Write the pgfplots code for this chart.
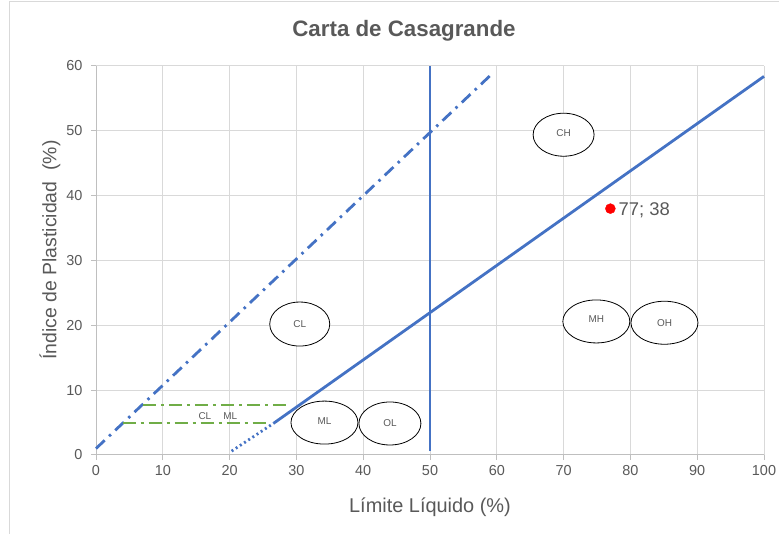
\documentclass[border=0pt]{standalone}
\usepackage{pgfplots}
\pgfplotsset{compat=1.18}
\usepackage{fontspec}
\setmainfont{Liberation Sans}
\definecolor{txt}{HTML}{595959}
\definecolor{gridc}{HTML}{D9D9D9}
\definecolor{axc}{HTML}{BFBFBF}
\definecolor{blu}{HTML}{4472C4}
\definecolor{grn}{HTML}{70AD47}
\tikzset{zone/.style={black, line width=0.8bp, fill=white}, zlab/.style={font=\fontsize{10}{11}\selectfont, text=txt}}
\begin{document}
\begin{tikzpicture}
\path[use as bounding box] (-96bp,-79bp) rectangle (683bp,455bp);
\draw[gridc, line width=1bp] (-86bp,-79bp) -- (-86bp,453bp) -- (683bp,453bp);
\begin{axis}[
  scale only axis, width=668bp, height=389bp,
  xmin=0, xmax=100, ymin=0, ymax=60,
  xtick distance=10, ytick distance=10,
  grid=major,
  major grid style={gridc, line width=1bp},
  axis x line*=bottom, axis y line*=left,
  axis line style={axc, line width=1bp, -},
  tick style={axc, line width=1bp},
  major tick length=5bp,
  tick align=outside,
  /pgf/number format/assume math mode=true,
  ticklabel style={font=\fontsize{14.5}{16}\selectfont, text=txt},
  xticklabel style={yshift=-2bp},
  yticklabel style={xshift=-5bp},
  clip=false,
]
% U-line
\addplot[blu, line width=2.8bp, dash pattern=on 12bp off 6bp on 2.5bp off 6bp] coordinates {(0,1) (59.5,59)};
% vertical LL=50
\addplot[blu, line width=2.8bp] coordinates {(50,0.6) (50,60)};
% A-line
\addplot[blu, line width=2.8bp, dash pattern=on 2bp off 3bp] coordinates {(20.3,0.6) (26.6,4.9)};
\addplot[blu, line width=2.8bp] coordinates {(26.6,4.9) (100,58.4)};
% CL-ML band
\addplot[grn, line width=2.3bp, dash pattern=on 13bp off 5bp on 3bp off 5bp] coordinates {(7,7.7) (28.8,7.7)};
\addplot[grn, line width=2.3bp, dash pattern=on 13bp off 5bp on 3bp off 5bp] coordinates {(4,4.9) (25.7,4.9)};
% ellipses
\draw[zone] (axis cs:30.5,20.2) ellipse [x radius=30bp, y radius=22bp];
\node[zlab] at (axis cs:30.5,20.2) {CL};
\draw[zone] (axis cs:34.2,5.0) ellipse [x radius=33.5bp, y radius=21.5bp];
\node[zlab] at (axis cs:34.2,5.3) {ML};
\draw[zone] (axis cs:44.0,4.86) ellipse [x radius=31bp, y radius=21.5bp];
\node[zlab] at (axis cs:44.0,4.86) {OL};
\draw[zone] (axis cs:70.0,49.4) ellipse [x radius=30.5bp, y radius=21.5bp];
\node[zlab] at (axis cs:70.0,49.7) {CH};
\draw[zone] (axis cs:74.9,20.6) ellipse [x radius=33.5bp, y radius=21.5bp];
\node[zlab] at (axis cs:74.9,20.9) {MH};
\draw[zone] (axis cs:85.1,20.4) ellipse [x radius=33.5bp, y radius=21.5bp];
\node[zlab] at (axis cs:85.1,20.4) {OH};
\node[zlab] at (axis cs:16.3,6.0) {CL};
\node[zlab] at (axis cs:20.1,6.0) {ML};
% point
\addplot[only marks, mark=*, mark size=5bp, red, mark options={draw=red, fill=red}] coordinates {(77,38)};
\node[anchor=base west, font=\fontsize{18.5}{20}\selectfont, text=txt, inner sep=0pt] at (axis cs:78.2,37.0) {77; 38};
\end{axis}
\node[anchor=base, font=\bfseries\fontsize{22.4}{26}\selectfont, text=txt] at (308bp,418bp) {Carta de Casagrande};
\node[font=\fontsize{20}{22}\selectfont, text=txt] at (334bp,-52bp) {Límite Líquido (\%)};
\node[rotate=90, font=\fontsize{19.5}{22}\selectfont, text=txt] at (-46bp,205bp) {Índice de Plasticidad\ \ (\%)};
\end{tikzpicture}
\end{document}
